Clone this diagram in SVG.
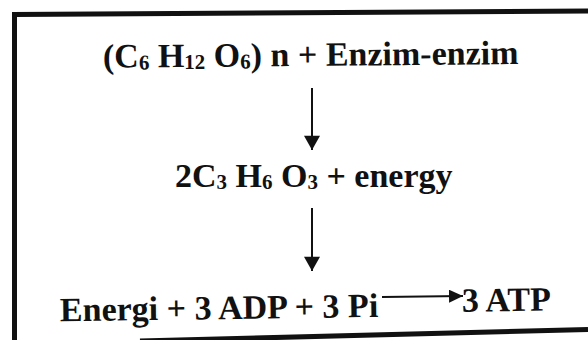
<svg xmlns="http://www.w3.org/2000/svg" width="588" height="340" viewBox="0 0 588 340">
<style>
.t{font-family:"Liberation Serif","Times New Roman",serif;font-weight:bold;font-size:34px;fill:#111}
.s{font-size:21px}
.b{stroke:#111;stroke-width:5;fill:none}
.c{stroke:#111;stroke-width:2;fill:none}
</style>
<defs>
<marker id="ah" viewBox="0 0 14 13" refX="14" refY="6.5" markerWidth="14" markerHeight="13" markerUnits="userSpaceOnUse" orient="auto">
<path d="M0,0 L14,6.5 L0,13 Z" fill="#111"/>
</marker>
<marker id="av" viewBox="0 0 16 18" refX="16" refY="9" markerWidth="18" markerHeight="16" markerUnits="userSpaceOnUse" orient="auto">
<path d="M0,0 L16,9 L0,18 Z" fill="#111"/>
</marker>
</defs>
<rect width="588" height="340" fill="#fff"/>
<g id="border">
<path class="b" d="M14.5,340 L14.5,14.5 L588,11"/>
<path class="b" d="M140,341 L588,329.5"/>
</g>
<g id="node-polysaccharide">
<text class="t" x="103" y="66" transform="rotate(-0.5 300 66)">(C<tspan class="s" dy="2">6</tspan><tspan dy="-2"> H</tspan><tspan class="s" dy="2">12</tspan><tspan dy="-2"> O</tspan><tspan class="s" dy="2">6</tspan><tspan dy="-2">) n + Enzim-enzim</tspan></text>
</g>
<g id="node-lactate">
<text class="t" x="175" y="187">2C<tspan class="s" dy="2">3</tspan><tspan dy="-2"> H</tspan><tspan class="s" dy="2">6</tspan><tspan dy="-2"> O</tspan><tspan class="s" dy="2">3</tspan><tspan dy="-2"> + energy</tspan></text>
</g>
<g id="node-energy">
<text class="t" x="60" y="318" transform="rotate(-0.8 300 316)">Energi + 3 ADP + 3 Pi</text>
</g>
<g id="node-atp">
<text class="t" x="462" y="314" transform="rotate(-0.8 300 316)">3 ATP</text>
</g>
<g id="connectors">
<line class="c" x1="312" y1="88" x2="312" y2="150" marker-end="url(#av)"/>
<line class="c" x1="312" y1="208" x2="312" y2="271" marker-end="url(#av)"/>
<line class="c" x1="382" y1="297" x2="463" y2="296" marker-end="url(#ah)"/>
</g>
</svg>
